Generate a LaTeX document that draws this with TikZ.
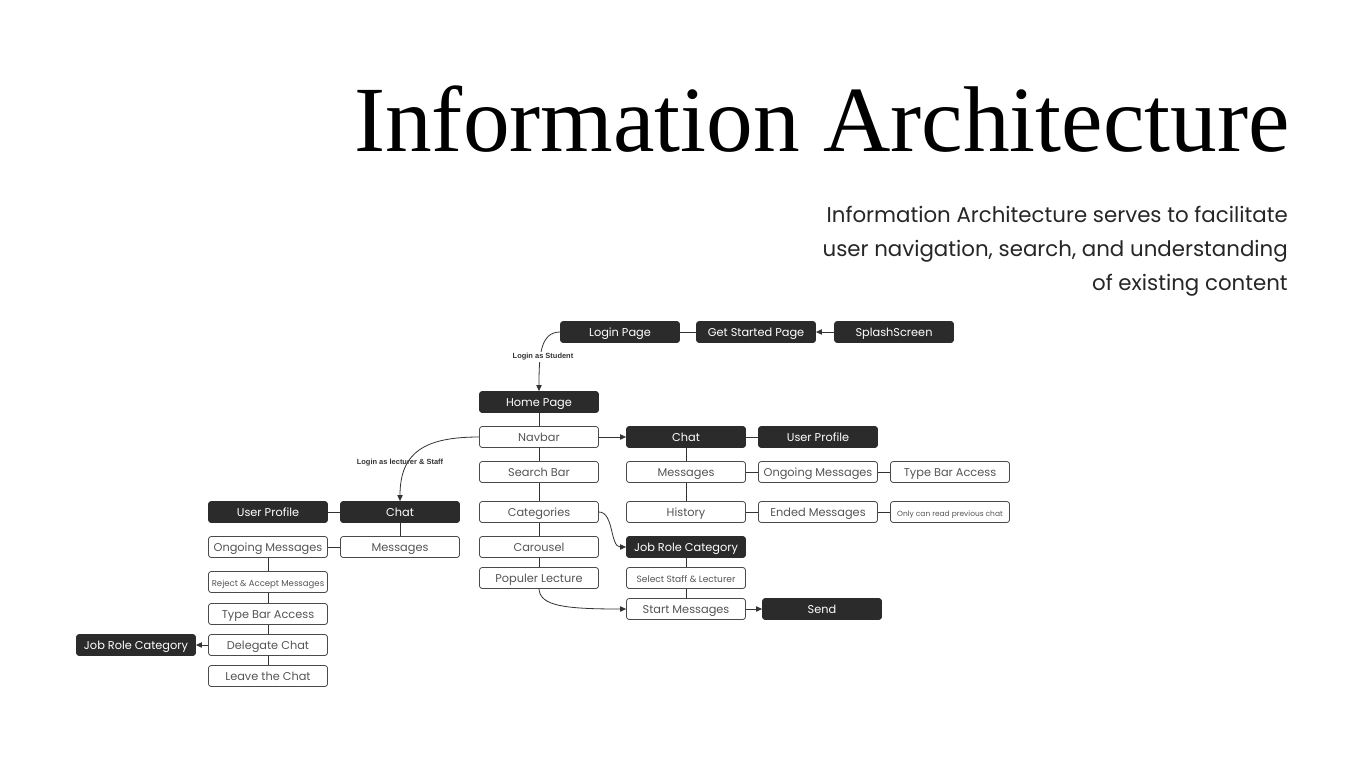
\documentclass[tikz,border=0pt]{standalone}
\usepackage{fontspec}
\setmainfont{Liberation Serif}
\newfontfamily\boxfont{Poppins}
\newfontfamily\labfont{Liberation Sans}
\usetikzlibrary{arrows.meta}
\definecolor{boxdark}{HTML}{2B2B2B}
\definecolor{boxtext}{HTML}{555555}
\definecolor{boxline}{HTML}{4A4A4A}
\definecolor{connline}{HTML}{333333}
\begin{document}
\begin{tikzpicture}[x=0.75pt,y=-0.75pt,
  base/.style={rounded corners=2pt, minimum width=89.25pt, minimum height=15.75pt, inner sep=0pt, line width=0.6pt, text height=0.7em, text depth=0.1em},
  dark/.style={base, draw=boxdark, fill=boxdark, text=white, font=\boxfont\fontsize{8.5}{10}\selectfont},
  light/.style={base, draw=boxline, fill=white, text=boxtext, font=\boxfont\fontsize{8.5}{10}\selectfont},
  conn/.style={draw=connline, line width=0.6pt},
  arr/.style={conn, -{Triangle[length=4.5pt,width=4pt]}},
  lab/.style={font=\labfont\bfseries\fontsize{5.6}{6.5}\selectfont, text=connline, inner sep=1pt}
]
\useasboundingbox (0,0) rectangle (1366,768);
\fill[white] (0,0) rectangle (1366,768);

% Title and subtitle
\node[anchor=base east, inner sep=0pt, font=\fontsize{70}{80}\selectfont] (title) at (1290,151) {Information Architecture};
\node[anchor=base east, inner sep=0pt, font=\boxfont\fontsize{16}{19}\selectfont, text=black!85] (sub1) at (1288,222) {Information Architecture serves to facilitate};
\node[anchor=base east, inner sep=0pt, font=\boxfont\fontsize{16}{19}\selectfont, text=black!85] (sub2) at (1288,256) {user navigation, search, and understanding};
\node[anchor=base east, inner sep=0pt, font=\boxfont\fontsize{16}{19}\selectfont, text=black!85] (sub3) at (1288,290) {of existing content};

% Top row
\node[dark] (login) at (620,332) {Login Page};
\node[dark] (getstarted) at (756,332) {Get Started Page};
\node[dark] (splash) at (894,332) {SplashScreen};

% Student column
\node[dark] (home) at (539,402) {Home Page};
\node[light] (navbar) at (539,437) {Navbar};
\node[light] (search) at (539,472) {Search Bar};
\node[light] (categories) at (539,512) {Categories};
\node[light] (carousel) at (539,547) {Carousel};
\node[light] (populer) at (539,578) {Populer Lecture};

% Student chat branch
\node[dark] (chatR) at (686,437) {Chat};
\node[dark] (profileR) at (818,437) {User Profile};
\node[light] (messagesR) at (686,472) {Messages};
\node[light] (ongoingR) at (818,472) {Ongoing Messages};
\node[light] (typebarR) at (950,472) {Type Bar Access};
\node[light] (history) at (686,512) {History};
\node[light] (ended) at (818,512) {Ended Messages};
\node[light, font=\boxfont\fontsize{5.6}{6.5}\selectfont] (readonly) at (950,512) {Only can read previous chat};
\node[dark] (jobR) at (686,547) {Job Role Category};
\node[light, font=\boxfont\fontsize{6.8}{8}\selectfont] (select) at (686,578) {Select Staff \& Lecturer};
\node[light] (start) at (686,609) {Start Messages};
\node[dark] (send) at (822,609) {Send};

% Lecturer & staff branch
\node[dark] (profileL) at (268,512) {User Profile};
\node[dark] (chatL) at (400,512) {Chat};
\node[light] (ongoingL) at (268,547) {Ongoing Messages};
\node[light] (messagesL) at (400,547) {Messages};
\node[light, font=\boxfont\fontsize{6.4}{7.5}\selectfont] (reject) at (268,582) {Reject \& Accept Messages};
\node[light] (typebarL) at (268,614) {Type Bar Access};
\node[light] (delegate) at (268,645) {Delegate Chat};
\node[light] (leave) at (268,676) {Leave the Chat};
\node[dark] (jobL) at (136,645) {Job Role Category};

% Connectors: top row
\draw[arr] (splash) -- (getstarted);
\draw[conn] (getstarted) -- (login);
\draw[arr] (login.west) .. controls +(-20,0) and +(0,-35) .. (home.north);
\node[lab, fill=white] (lstudent) at (543,357) {Login as Student};

% Student column
\draw[conn] (home) -- (navbar);
\draw[conn] (navbar) -- (search);
\draw[conn] (search) -- (categories);
\draw[conn] (categories) -- (carousel);
\draw[conn] (carousel) -- (populer);
\draw[arr] (navbar) -- (chatR);
\draw[conn] (chatR) -- (profileR);
\draw[conn] (chatR) -- (messagesR);
\draw[conn] (messagesR) -- (history);
\draw[conn] (messagesR) -- (ongoingR);
\draw[conn] (ongoingR) -- (typebarR);
\draw[conn] (history) -- (ended);
\draw[conn] (ended) -- (readonly);
\draw[arr] (categories.east) .. controls (614,512) and (610,547) .. (jobR.west);
\draw[conn] (jobR) -- (select);
\draw[conn] (select) -- (start);
\draw[arr] (populer.south) .. controls (540,606) and (565,609) .. (start.west);
\draw[arr] (start) -- (send);

% Lecturer & staff branch
\draw[arr] (navbar.west) .. controls (425,437) and (400,452) .. (chatL.north);
\node[lab] (llecturer) at (400,463) {Login as lecturer \& Staff};
\draw[conn] (chatL) -- (profileL);
\draw[conn] (chatL) -- (messagesL);
\draw[conn] (messagesL) -- (ongoingL);
\draw[conn] (ongoingL) -- (reject);
\draw[conn] (reject) -- (typebarL);
\draw[conn] (typebarL) -- (delegate);
\draw[conn] (delegate) -- (leave);
\draw[arr] (delegate) -- (jobL);
\end{tikzpicture}
\end{document}
